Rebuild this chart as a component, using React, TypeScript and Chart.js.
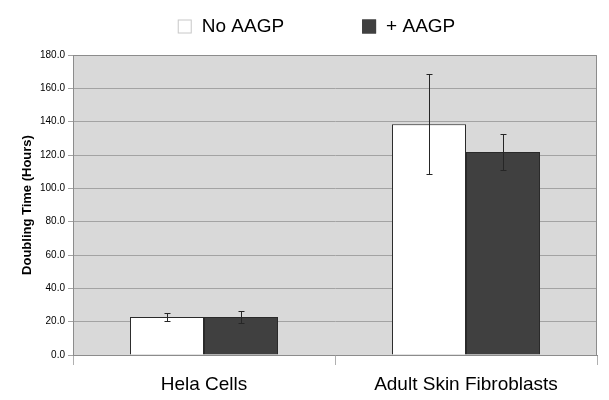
import React, { useEffect, useRef } from "react";
import { Chart, registerables } from "chart.js";

Chart.register(...registerables);

const categories = ["Hela Cells", "Adult Skin Fibroblasts"];
const seriesNames = ["No AAGP", "+ AAGP"];
const noAagpValues = [22.8, 138.4];
const noAagpErrors = [2.4, 29.9];
const plusAagpValues = [22.8, 121.8];
const plusAagpErrors = [3.5, 10.7];
const yMin = 0;
const yMax = 180;
const yStep = 20;

const FONT = "'Liberation Sans', Arial, Helvetica, sans-serif";
const COLORS = ["#ffffff", "#404040"];
const errorsBySeries = [noAagpErrors, plusAagpErrors];

const plotBgPlugin = {
  id: "plotBg",
  beforeDraw(chart: any) {
    const { ctx, chartArea: a } = chart;
    ctx.save();
    ctx.fillStyle = "#d9d9d9";
    ctx.fillRect(a.left, a.top, a.right - a.left, a.bottom - a.top);
    ctx.restore();
  },
  afterDraw(chart: any) {
    const { ctx, chartArea: a } = chart;
    ctx.save();
    ctx.strokeStyle = "#8c8c8c";
    ctx.lineWidth = 1;
    ctx.beginPath();
    ctx.moveTo(a.left + 0.5, a.top + 0.5);
    ctx.lineTo(a.right - 0.5, a.top + 0.5);
    ctx.lineTo(a.right - 0.5, a.bottom);
    ctx.stroke();
    ctx.restore();
  },
};

const errorBarPlugin = {
  id: "errorBars",
  afterDatasetsDraw(chart: any) {
    const { ctx } = chart;
    const yScale = chart.scales.y;
    ctx.save();
    ctx.strokeStyle = "#262626";
    ctx.lineWidth = 1;
    chart.data.datasets.forEach((ds: any, di: number) => {
      const meta = chart.getDatasetMeta(di);
      meta.data.forEach((el: any, i: number) => {
        const v = ds.data[i];
        const e = errorsBySeries[di][i];
        const x = Math.round(el.x) + 0.5;
        const yt = Math.round(yScale.getPixelForValue(v + e)) + 0.5;
        const yb = Math.round(yScale.getPixelForValue(v - e)) + 0.5;
        const cap = 3;
        ctx.beginPath();
        ctx.moveTo(x, yt);
        ctx.lineTo(x, yb);
        ctx.moveTo(x - cap, yt);
        ctx.lineTo(x + cap, yt);
        ctx.moveTo(x - cap, yb);
        ctx.lineTo(x + cap, yb);
        ctx.stroke();
      });
    });
    ctx.restore();
  },
};

const legendPlugin = {
  id: "customLegend",
  afterDraw(chart: any) {
    const { ctx } = chart;
    ctx.save();
    ctx.font = `19px ${FONT}`;
    const box = 14;
    const textGap = 10;
    const itemGap = 78;
    const widths = seriesNames.map((n) => box + textGap + ctx.measureText(n).width);
    const total = widths.reduce((a, b) => a + b, 0) + itemGap * (seriesNames.length - 1);
    let x = 316.5 - total / 2;
    const cy = 26.5;
    seriesNames.forEach((name, i) => {
      ctx.fillStyle = COLORS[i];
      ctx.fillRect(x, cy - box / 2, box, box);
      ctx.strokeStyle = i === 0 ? "#c8c8c8" : "#404040";
      ctx.lineWidth = 1;
      ctx.strokeRect(x + 0.5, cy - box / 2 + 0.5, box - 1, box - 1);
      ctx.fillStyle = "#000";
      ctx.textBaseline = "middle";
      ctx.textAlign = "left";
      ctx.fillText(name, x + box + textGap, cy);
      x += widths[i] + itemGap;
    });
    ctx.restore();
  },
};

export default function App() {
  const ref = useRef<HTMLCanvasElement | null>(null);
  useEffect(() => {
    if (!ref.current) return;
    const chart = new Chart(ref.current, {
      type: "bar",
      data: {
        labels: categories,
        datasets: [
          {
            label: seriesNames[0],
            data: noAagpValues,
            backgroundColor: COLORS[0],
            borderColor: "#2a2a2a",
            borderWidth: 1,
            categoryPercentage: 0.565,
            barPercentage: 1,
          },
          {
            label: seriesNames[1],
            data: plusAagpValues,
            backgroundColor: COLORS[1],
            borderColor: "#2a2a2a",
            borderWidth: 1,
            categoryPercentage: 0.565,
            barPercentage: 1,
          },
        ],
      },
      options: {
        animation: false,
        responsive: true,
        maintainAspectRatio: false,
        layout: { padding: { top: 55, right: 12, left: 0, bottom: 0 } },
        plugins: {
          legend: { display: false },
          tooltip: { enabled: false },
        },
        scales: {
          x: {
            grid: {
              display: true,
              drawOnChartArea: false,
              tickLength: 10,
              color: "#b0b0b0",
              offset: true,
            },
            border: { display: true, color: "#8c8c8c" },
            ticks: {
              color: "#000",
              font: { family: FONT, size: 19 },
              padding: 8,
              maxRotation: 0,
            },
            afterFit(scale: any) {
              scale.height = 45;
            },
          },
          y: {
            min: yMin,
            max: yMax,
            grid: {
              color: "#a3a3a3",
              tickLength: 5,
            },
            border: { display: true, color: "#8c8c8c" },
            ticks: {
              stepSize: yStep,
              color: "#000",
              font: { family: FONT, size: 10 },
              padding: 3,
              callback: (v: any) => Number(v).toFixed(1),
            },
            title: {
              display: true,
              text: "Doubling Time (Hours)",
              color: "#000",
              font: { family: FONT, size: 13, weight: "bold" },
              padding: { top: 20, bottom: 0 },
            },
            afterFit(scale: any) {
              scale.width = 73;
            },
          },
        },
      },
      plugins: [plotBgPlugin, errorBarPlugin, legendPlugin],
    });
    return () => chart.destroy();
  }, []);
  return (
    <div style={{ position: "fixed", left: 0, top: 0, width: 609, height: 400, background: "#fff" }}>
      <canvas ref={ref} />
    </div>
  );
}
